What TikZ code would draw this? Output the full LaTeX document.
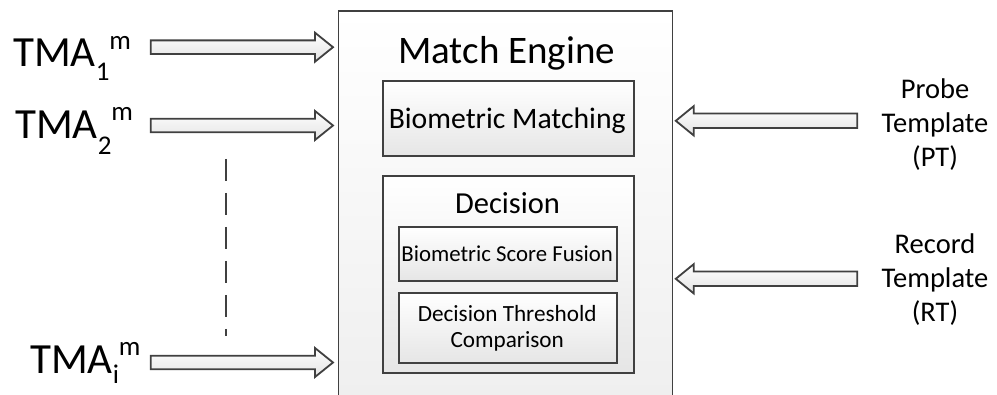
\documentclass[tikz,border=0pt]{standalone}
\usepackage{fontspec}
\setmainfont{Carlito}
\usetikzlibrary{calc}
\definecolor{edge}{HTML}{404040}
\tikzset{
  enginebox/.style={draw=edge, line width=1.8pt, top color=white, bottom color=gray!14, inner sep=0pt, anchor=north west},
  box/.style={draw=edge, line width=2pt, top color=white, bottom color=gray!20, inner sep=0pt, anchor=north west},
  blk/.style={draw=edge, line width=1.8pt, top color=white, bottom color=gray!22, line join=miter},
  lbl/.style={inner sep=0pt, text=black},
  big/.style={font=\fontsize{43}{50}\selectfont},
  side/.style={font=\fontsize{28.5}{34}\selectfont, align=center},
  dashline/.style={draw=edge, line width=2pt, dash pattern=on 22pt off 12pt},
}
\newcommand\rblk[2]{\path[blk] ($(#1)+(0,-6.8)$) -- ($(#2)+(-18,-6.8)$) -- ($(#2)+(-18,-14.5)$) -- (#2) -- ($(#2)+(-18,14.5)$) -- ($(#2)+(-18,6.8)$) -- ($(#1)+(0,6.8)$) -- cycle;}
\newcommand\lblk[2]{\path[blk] ($(#1)+(0,-7.2)$) -- ($(#2)+(18,-7.2)$) -- ($(#2)+(18,-14.7)$) -- (#2) -- ($(#2)+(18,14.7)$) -- ($(#2)+(18,7.2)$) -- ($(#1)+(0,7.2)$) -- cycle;}
\newcommand\smallsz{\fontsize{27}{27}\selectfont}
\begin{document}
\begin{tikzpicture}[x=1pt,y=-1pt]
\path[use as bounding box, clip] (0,0) rectangle (997,395);
\fill[white] (0,0) rectangle (997,395);

% main engine box (runs past the bottom edge)
\node[enginebox, minimum width=334pt, minimum height=430pt] (engine) at (337.5,10) {};
\node[lbl, anchor=base, font=\fontsize{39}{46}\selectfont] (title) at (506.7,63.3) {Match Engine};

\node[box, minimum width=251pt, minimum height=75pt] (bm) at (381.7,80) {};
\node[lbl, anchor=base, font=\fontsize{29.7}{34}\selectfont] (bmt) at (507.2,128.3) {Biometric Matching};

\node[box, minimum width=251pt, minimum height=196.7pt] (dec) at (381.7,175) {};
\node[lbl, anchor=base, font=\fontsize{30.5}{34}\selectfont] (dect) at (507.5,213.3) {Decision};

\node[box, minimum width=217.7pt, minimum height=54pt] (bsf) at (398.3,226) {};
\node[lbl, anchor=base, font=\fontsize{22.8}{25}\selectfont] (bsft) at (507.2,261.7) {Biometric Score Fusion};

\node[box, minimum width=217.7pt, minimum height=70pt] (dtc) at (398.3,291.7) {};
\node[lbl, align=center, font=\fontsize{23.2}{25.5}\selectfont] (dtct) at (507.2,328.5) {Decision Threshold\\Comparison};

% left labels
\node[lbl, big, anchor=base west] (tma1) at (13,66.7) {TMA{\smallsz\raisebox{-13.5pt}{1}\raisebox{17pt}{m}}};
\node[lbl, big, anchor=base west] (tma2) at (15,138.3) {TMA{\smallsz\raisebox{-16pt}{2}\raisebox{18pt}{m}}};
\node[lbl, big, anchor=base west] (tmai) at (30,373.3) {TMA{\smallsz\raisebox{-10pt}{i}\raisebox{18pt}{m}}};

\coordinate (s1) at (150.7,47.2);
\coordinate (s2) at (150.7,125.5);
\coordinate (si) at (150.7,362.5);
\coordinate (t1) at ($(engine.west |- s1)+(-4.5,0)$);
\coordinate (t2) at ($(engine.west |- s2)+(-4.5,0)$);
\coordinate (ti) at ($(engine.west |- si)+(-4.5,0)$);
\rblk{s1}{t1}
\rblk{s2}{t2}
\rblk{si}{ti}

\coordinate (d1) at (226,159);
\coordinate (d2) at (226,336);
\draw[dashline] (d1) -- (d2);

% right labels
\node[lbl, side] (pt) at (935,124.5) {Probe\\Template\\(PT)};
\node[lbl, side] (rt) at (935,280) {Record\\Template\\(RT)};
\coordinate (ps) at (857.3,120.8);
\coordinate (rs) at (857.3,278.8);
\coordinate (pe) at ($(engine.east |- ps)+(2.5,0)$);
\coordinate (re) at ($(engine.east |- rs)+(2.5,0)$);
\lblk{ps}{pe}
\lblk{rs}{re}
\end{tikzpicture}
\end{document}
